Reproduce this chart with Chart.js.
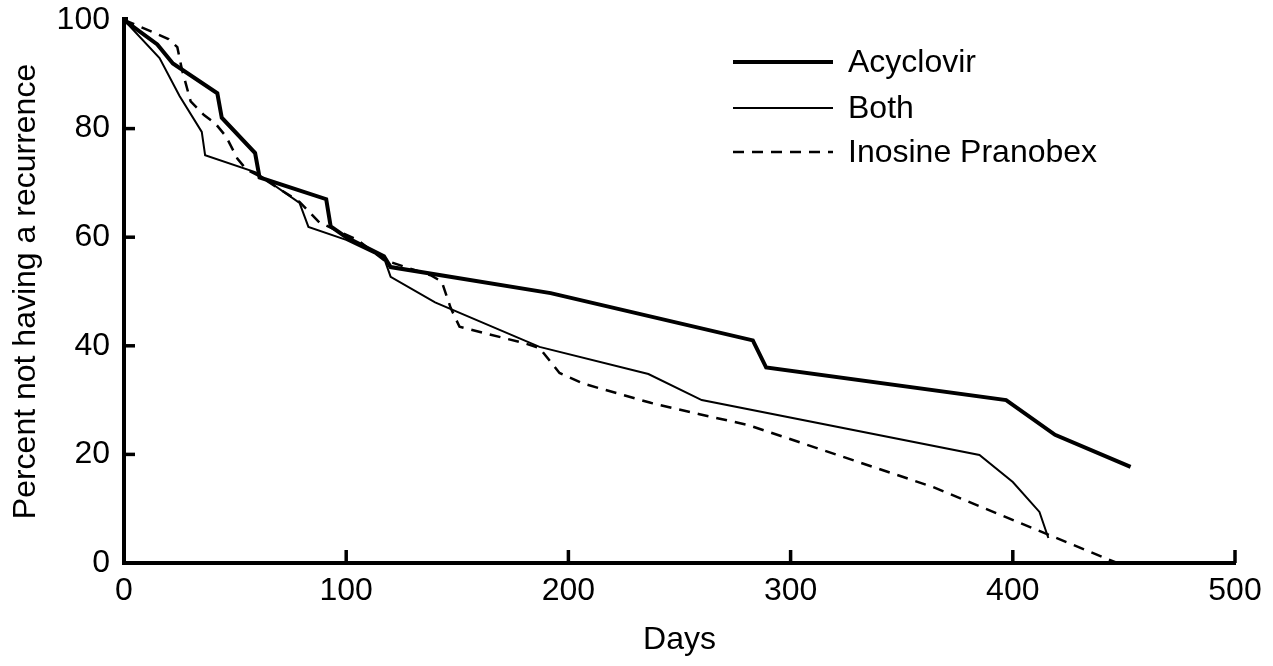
<!DOCTYPE html>
<html>
<head>
<meta charset="utf-8">
<script src="https://cdn.jsdelivr.net/npm/chart.js@4"></script>
<style>
  html, body { margin: 0; padding: 0; background: #fff; }
  #wrap { width: 1273px; height: 666px; position: relative; }
</style>
</head>
<body>
<div id="wrap"><canvas id="c"></canvas></div>
<script>
// ---- Data ----
const seriesLabels = ['Acyclovir', 'Both', 'Inosine Pranobex'];

const acyclovirDays = [0, 15, 22, 42, 44, 59, 61, 91, 93, 100, 117, 120, 192, 283, 289, 397, 419, 453];
const acyclovirPct  = [100, 95.5, 92, 86.5, 82, 75.5, 71, 67, 62, 60, 56.5, 54.5, 49.7, 41, 36, 30, 23.6, 17.7];

const bothDays = [0, 16, 25, 35, 36.5, 59, 79, 83, 100, 117, 120, 140, 187, 236, 260, 385, 400, 412, 416];
const bothPct  = [100, 93, 86, 79.4, 75.1, 72, 66.3, 61.9, 59.5, 56.2, 52.7, 48, 39.8, 34.8, 30, 19.9, 14.9, 9.4, 4.6];

const inosineDays = [0, 6, 20, 24, 26, 30, 36, 41, 46, 51, 55, 62, 79, 88, 105, 117, 138, 143, 147, 151, 180, 187, 196, 207, 237, 259, 281, 364, 447];
const inosinePct  = [100, 99, 96.5, 95, 91, 85, 82.5, 81, 78.5, 74.5, 72.5, 71, 66.5, 62.7, 59.5, 55.8, 53, 51.8, 47, 43.5, 40.5, 39.6, 35, 33, 29.5, 27.4, 25.4, 14, 0];

const xTickValues = [0, 100, 200, 300, 400, 500];
const yTickValues = [0, 20, 40, 60, 80, 100];

const toPoints = (xs, ys) => xs.map((d, i) => ({ x: d, y: ys[i] }));

const FONT = '"Liberation Sans", Arial, Helvetica, sans-serif';
const FS = 32;

// inward tick marks
const innerTicks = {
  id: 'innerTicks',
  afterDatasetsDraw(chart) {
    const { ctx, scales: { x, y }, chartArea: a } = chart;
    ctx.save();
    ctx.strokeStyle = '#000';
    ctx.lineWidth = 3.5;
    ctx.lineCap = 'butt';
    xTickValues.forEach(v => {
      if (v === 0) return;
      const px = x.getPixelForValue(v);
      ctx.beginPath(); ctx.moveTo(px, a.bottom); ctx.lineTo(px, a.bottom - 13); ctx.stroke();
    });
    yTickValues.forEach(v => {
      if (v === 0 || v === 100) return;
      const py = y.getPixelForValue(v);
      ctx.beginPath(); ctx.moveTo(a.left, py); ctx.lineTo(a.left + 11, py); ctx.stroke();
    });
    ctx.fillStyle = '#000';
    ctx.fillRect(a.left - 2, a.top - 3, 6, 5);
    ctx.restore();
  }
};

// legend drawn in the upper right as in the reference
const customLegend = {
  id: 'customLegend',
  afterDraw(chart) {
    const { ctx, chartArea: a } = chart;
    const x0 = a.left + 609, x1 = a.left + 709, tx = a.left + 724;
    const ys = [a.top + 42, a.top + 88, a.top + 132];
    ctx.save();
    ctx.font = FS + 'px ' + FONT;
    ctx.fillStyle = '#000';
    ctx.textBaseline = 'middle';
    ctx.textAlign = 'left';
    chart.data.datasets.forEach((ds, i) => {
      ctx.beginPath();
      ctx.strokeStyle = '#000';
      ctx.lineWidth = ds.borderWidth;
      ctx.setLineDash(ds.borderDash || []);
      ctx.moveTo(x0, ys[i]); ctx.lineTo(x1, ys[i]);
      ctx.stroke();
      ctx.setLineDash([]);
      ctx.fillText(ds.label, tx, ys[i] + 1);
    });
    ctx.restore();
  }
};

new Chart(document.getElementById('c'), {
  type: 'line',
  data: {
    datasets: [
      { label: seriesLabels[0], data: toPoints(acyclovirDays, acyclovirPct), borderColor: '#000', borderWidth: 4, pointRadius: 0, tension: 0, fill: false },
      { label: seriesLabels[1], data: toPoints(bothDays, bothPct), borderColor: '#000', borderWidth: 2, pointRadius: 0, tension: 0, fill: false },
      { label: seriesLabels[2], data: toPoints(inosineDays, inosinePct), borderColor: '#000', borderWidth: 2.5, borderDash: [11, 8], pointRadius: 0, tension: 0, fill: false }
    ]
  },
  options: {
    responsive: true,
    maintainAspectRatio: false,
    animation: false,
    layout: { padding: { left: 0, right: 38, top: 20, bottom: 0 } },
    plugins: { legend: { display: false }, tooltip: { enabled: false } },
    scales: {
      x: {
        type: 'linear', min: 0, max: 500,
        afterFit: s => { s.height = 103; s.paddingLeft = 0; s.paddingRight = 0; },
        afterBuildTicks: s => { s.ticks = xTickValues.map(v => ({ value: v })); },
        ticks: { color: '#000', font: { family: FONT, size: FS }, padding: 9, maxRotation: 0 },
        grid: { display: true, drawOnChartArea: false, drawTicks: false },
        border: { display: true, color: '#000', width: 4 },
        title: { display: true, text: 'Days', color: '#000', font: { family: FONT, size: FS }, padding: { top: 0, bottom: 7 } }
      },
      y: {
        type: 'linear', min: 0, max: 100,
        afterFit: s => { s.width = 124; s.paddingTop = 0; s.paddingBottom = 0; },
        afterBuildTicks: s => { s.ticks = yTickValues.map(v => ({ value: v })); },
        ticks: { color: '#000', font: { family: FONT, size: FS }, padding: 14 },
        grid: { display: true, drawOnChartArea: false, drawTicks: false },
        border: { display: true, color: '#000', width: 4 },
        title: { display: true, text: 'Percent not having a recurrence', color: '#000', font: { family: FONT, size: FS }, padding: { top: 7, bottom: 0 } }
      }
    }
  },
  plugins: [innerTicks, customLegend]
});
</script>
</body>
</html>
